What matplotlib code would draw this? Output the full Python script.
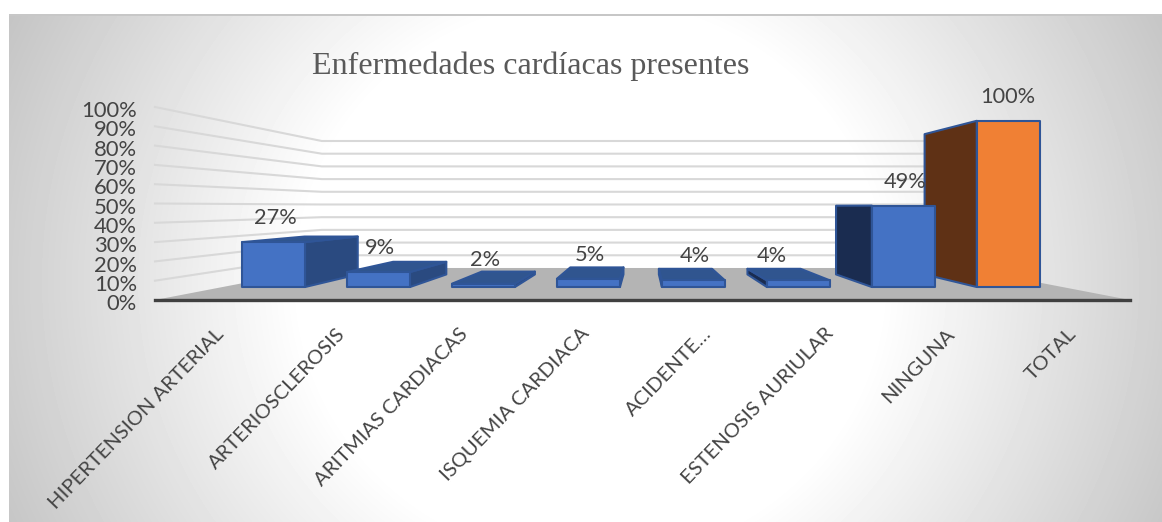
import numpy as np
from matplotlib import pyplot as plt
from matplotlib.patches import Polygon
from matplotlib.transforms import ScaledTranslation

categories = [
    "HIPERTENSION ARTERIAL",
    "ARTERIOSCLEROSIS",
    "ARITMIAS CARDIACAS",
    "ISQUEMIA CARDIACA",
    "ACIDENTE…",
    "ESTENOSIS AURIULAR",
    "NINGUNA",
    "TOTAL",
]
values = [27, 9, 2, 5, 4, 4, 49, 100]
value_labels = ["27%", "9%", "2%", "5%", "4%", "4%", "49%", "100%"]
y_ticks = [0, 10, 20, 30, 40, 50, 60, 70, 80, 90, 100]

WIDTH, HEIGHT = 1162, 522
TEXT = "#444444"
GRID = "#d8d8d8"

# perspective: vanishing point in data units, depth 0 = front plane, 1 = back wall
VP_X = 3.5
VP_Y = 48.5
DEPTH_GAIN = 0.52
BAR_FRONT = 0.31
BAR_BACK = 0.723
BAR_HALF = 0.30
BAR_SHIFT = -0.015


def project(x, y, depth):
    k = 1 / (1 + DEPTH_GAIN * depth)
    return VP_X + (x - VP_X) * k, VP_Y + (y - VP_Y) * k


def draw_bg(fig):
    bg = fig.add_axes([0, 0, 1, 1], zorder=0)
    yy, xx = np.mgrid[0:HEIGHT, 0:WIDTH]
    r = np.sqrt((xx - 590.0) ** 2 + (1.05 * (yy - 280.0)) ** 2)
    shade = 1 - 0.23 * np.clip((r - 290) / 354.0, 0, 1.1)
    shade[:15, :] = 1
    shade[:, :9] = 1
    shade[14:16, 9:] = 0.78
    bg.imshow(shade, cmap="gray", vmin=0, vmax=1, aspect="auto")
    bg.axis("off")


def face(ax, pts, color, z, edge="#2f5597"):
    ax.add_patch(Polygon(pts, closed=True, facecolor=color, edgecolor=edge,
                         linewidth=1.5, joinstyle="round", clip_on=False, zorder=z))


def draw_bar(ax, x, val, z, front_color, side_color, top_color):
    x0, x1 = x - BAR_HALF + BAR_SHIFT, x + BAR_HALF + BAR_SHIFT
    # the side nearest the vanishing point is the one in view
    sx = x1 if x < VP_X else x0
    side = [project(sx, 0, BAR_FRONT), project(sx, val, BAR_FRONT),
            project(sx, val, BAR_BACK), project(sx, 0, BAR_BACK)]
    top = [project(x0, val, BAR_FRONT), project(x1, val, BAR_FRONT),
           project(x1, val, BAR_BACK), project(x0, val, BAR_BACK)]
    front = [project(x0, 0, BAR_FRONT), project(x1, 0, BAR_FRONT),
             project(x1, val, BAR_FRONT), project(x0, val, BAR_FRONT)]
    face(ax, side, side_color, z)
    if val < VP_Y:
        face(ax, top, top_color, z)
    face(ax, front, front_color, z)


def main():
    fig = plt.figure(figsize=(WIDTH / 100, HEIGHT / 100), dpi=100)
    draw_bg(fig)

    ax = fig.add_axes([155 / WIDTH, (HEIGHT - 300) / HEIGHT, 975 / WIDTH, 193 / HEIGHT], zorder=1)
    ax.patch.set_alpha(0)
    ax.set_xlim(-0.5, 7.5)
    ax.set_ylim(0, 100)
    for name in ["top", "left", "right"]:
        ax.spines[name].set_visible(False)
    ax.spines["bottom"].set_color("#404040")
    ax.spines["bottom"].set_linewidth(2.4)
    ax.spines["bottom"].set_zorder(3)

    # floor
    floor = [project(-0.5, 0, 0), project(7.5, 0, 0), project(7.5, 0, 1), project(-0.5, 0, 1)]
    ax.add_patch(Polygon(floor, closed=True, facecolor="#b4b4b4", edgecolor="none",
                         clip_on=False, zorder=2))

    # grid runs along the left wall then across the back wall
    for t in y_ticks[1:]:
        pts = [project(-0.5, t, 0), project(-0.5, t, 1), project(7.5, t, 1)]
        ax.plot([p[0] for p in pts], [p[1] for p in pts], color=GRID, lw=1.5,
                clip_on=False, zorder=1, solid_joinstyle="miter")

    # bars closest to the centre sit in front of their neighbours
    order = sorted(range(len(values)), key=lambda i: -abs(i - VP_X))
    for rank, i in enumerate(order):
        z = 4 + rank * 0.1
        if categories[i] == "TOTAL":
            draw_bar(ax, i, values[i], z, "#f08034", "#5f3115", "#5f3115")
        elif i < VP_X:
            draw_bar(ax, i, values[i], z, "#4472c4", "#2a4a80", "#30558f")
        else:
            draw_bar(ax, i, values[i], z, "#4472c4", "#1a2c50", "#30558f")

    # data labels, pixels offset from the top of the front face
    shift = {5: -28, 7: -2}
    for i, val in enumerate(values):
        px, py = project(i, val, BAR_FRONT)
        ax.annotate(value_labels[i], (px, py), xytext=(shift.get(i, 0) * 0.72, 24 * 0.72),
                    textcoords="offset points", ha="center", va="center",
                    fontsize=15.7, family="Lato", color=TEXT, zorder=8, annotation_clip=False)

    ax.set_yticks(y_ticks)
    ax.set_yticklabels(["{}%".format(t) for t in y_ticks], family="Lato", fontsize=15.8,
                       color=TEXT, va="center")
    ax.tick_params(axis="y", length=0, pad=13)
    nudge = ScaledTranslation(0, -3 / 72, fig.dpi_scale_trans)
    for lab in ax.get_yticklabels():
        lab.set_transform(lab.get_transform() + nudge)

    ax.set_xticks(range(len(categories)))
    ax.set_xticklabels(categories, rotation=46, ha="right", rotation_mode="anchor",
                       family="Lato", fontsize=14.6, color=TEXT, va="top")
    ax.tick_params(axis="x", length=0, pad=18)
    nudge_x = ScaledTranslation(-1 / 72, 0, fig.dpi_scale_trans)
    for lab in ax.get_xticklabels():
        lab.set_transform(lab.get_transform() + nudge_x)

    fig.text(531 / WIDTH, 1 - 66 / HEIGHT, "Enfermedades cardíacas presentes", ha="center", va="center",
             family="Liberation Serif", fontsize=23, color="#595959")

    fig.savefig("out.png", dpi=100)


if __name__ == "__main__":
    main()
